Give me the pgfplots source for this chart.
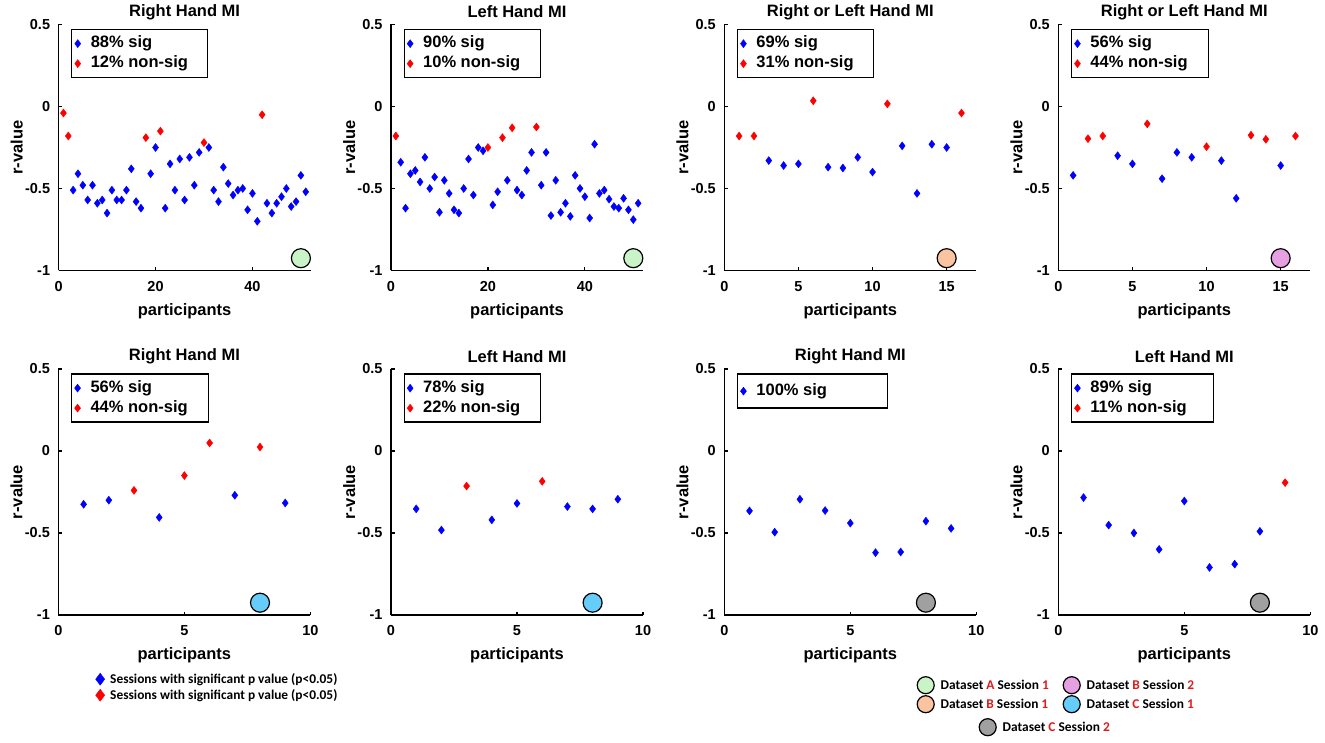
\documentclass[border=0pt]{standalone}
\usepackage{pgfplots}
\pgfplotsset{compat=1.18}
\usepackage{fontspec}
\setmainfont{Liberation Sans}
\newfontfamily\calib{Carlito}
\definecolor{mblue}{RGB}{0,0,255}
\definecolor{mred}{RGB}{255,0,0}
\definecolor{dsA}{RGB}{200,244,200}
\definecolor{dsB}{RGB}{250,196,160}
\definecolor{dsBB}{RGB}{230,160,226}
\definecolor{dsC}{RGB}{102,204,250}
\definecolor{dsCC}{RGB}{160,160,160}
\definecolor{txred}{RGB}{222,28,28}
\newcommand{\bigf}{\fontsize{16.5}{19}\selectfont\bfseries}
\newcommand{\tickf}{\fontsize{14.5}{17}\selectfont\bfseries}
\newcommand{\calf}{\fontsize{13.4}{15}\selectfont\calib\bfseries}
\newcommand{\R}[1]{\textcolor{txred}{#1}}
\pgfplotsset{
  panel/.style={
    scale only axis, width=252pt, height=246pt,
    anchor=south west,
    ymin=-1, ymax=0.5, ytick={-1,-0.5,0,0.5},
    axis lines*=left,
    axis line style={line width=1.5pt, -},
    tick align=inside,
    major tick length=3.5pt,
    tick style={black, line width=1.2pt},
    tick label style={font=\tickf},
    /pgf/number format/assume math mode=true,
    xticklabel style={yshift=-7pt},
    yticklabel style={xshift=-5pt},
    xlabel={participants}, ylabel={r-value},
    every axis title/.style={at={(0.5,1)}, anchor=center, yshift=12.5pt, font=\bigf},
    every axis x label/.style={at={(axis description cs:0.5,-0.165)}, anchor=center, font=\bigf},
    every axis y label/.style={at={(axis description cs:-0.166,0.5)}, rotate=90, anchor=center, font=\bigf},
    clip=false,
    legend style={at={(0,1)}, anchor=north west, xshift=12.5pt, yshift=-4.5pt,
      draw=black, line width=1.3pt, fill=white, font=\bigf,
      inner xsep=3pt, inner ysep=4pt, row sep=0pt,
      nodes={inner sep=2pt, text height=12pt, text depth=4pt},
      /tikz/every odd column/.style={column sep=8pt}},
    legend cell align=left,
    legend image code/.code={\draw[#1] plot coordinates {(0pt,0pt)};},
  },
  sig/.style={only marks, mark=diamond*, mark size=4pt, color=mblue, line width=0.4pt},
  nsig/.style={only marks, mark=diamond*, mark size=4pt, color=mred, line width=0.4pt},
  ds/.style={only marks, mark=*, mark size=9.5pt, mark options={draw=black, line width=1.2pt, fill=#1}, forget plot},
  dsl/.style={only marks, mark=*, mark size=8.5pt, mark options={draw=black, line width=1.2pt, fill=#1}},
  hidden/.style={hide axis, scale only axis, width=10pt, height=10pt, xmin=0, xmax=1, ymin=0, ymax=1, anchor=north west,
    legend cell align=left,
    legend image code/.code={\draw[##1] plot coordinates {(0pt,0pt)};}},
}
\begin{document}
\begin{tikzpicture}
\useasboundingbox (0pt,0pt) rectangle (1325pt,742pt);
% ---------- Panel 1
\begin{axis}[panel, at={(58.6pt,471.5pt)}, xmin=0, xmax=52, xtick={0,20,40}, title={Right Hand MI}]
\addplot[sig] coordinates {(3,-0.51)(4,-0.41)(5,-0.48)(6,-0.57)(7,-0.48)(8,-0.59)(9,-0.57)(10,-0.65)(11,-0.51)(12,-0.57)(13,-0.57)(14,-0.51)(15,-0.38)(16,-0.58)(17,-0.62)(19,-0.41)(20,-0.25)(22,-0.62)(23,-0.35)(24,-0.51)(25,-0.32)(26,-0.57)(27,-0.31)(28,-0.48)(29,-0.28)(31,-0.25)(32,-0.51)(33,-0.58)(34,-0.37)(35,-0.47)(36,-0.54)(37,-0.51)(38,-0.50)(39,-0.63)(40,-0.53)(41,-0.70)(43,-0.59)(44,-0.65)(45,-0.59)(46,-0.55)(47,-0.50)(48,-0.61)(49,-0.58)(50,-0.42)(51,-0.52)};
\addlegendentry{\makebox[112pt][l]{88\% sig}}
\addplot[nsig] coordinates {(1,-0.04)(2,-0.18)(18,-0.19)(21,-0.15)(30,-0.22)(42,-0.05)};
\addlegendentry{12\% non-sig}
\addplot[ds=dsA] coordinates {(50,-0.925)};
\end{axis}
% ---------- Panel 2
\begin{axis}[panel, at={(391pt,471.5pt)}, xmin=0, xmax=52, xtick={0,20,40}, title={Left Hand MI}]
\addplot[sig] coordinates {(2,-0.34)(3,-0.62)(4,-0.41)(5,-0.39)(6,-0.46)(7,-0.31)(8,-0.50)(9,-0.43)(10,-0.645)(11,-0.45)(12,-0.53)(13,-0.63)(14,-0.65)(15,-0.50)(16,-0.32)(17,-0.54)(18,-0.25)(19,-0.27)(21,-0.60)(22,-0.52)(24,-0.45)(26,-0.51)(27,-0.54)(28,-0.39)(29,-0.28)(31,-0.48)(32,-0.28)(33,-0.665)(34,-0.45)(35,-0.645)(36,-0.59)(37,-0.67)(38,-0.42)(39,-0.50)(40,-0.55)(41,-0.68)(42,-0.23)(43,-0.53)(44,-0.51)(45,-0.565)(46,-0.61)(47,-0.62)(48,-0.56)(49,-0.63)(50,-0.69)(51,-0.59)};
\addlegendentry{\makebox[112pt][l]{90\% sig}}
\addplot[nsig] coordinates {(1,-0.18)(20,-0.25)(23,-0.19)(25,-0.13)(30,-0.125)};
\addlegendentry{10\% non-sig}
\addplot[ds=dsA] coordinates {(50,-0.925)};
\end{axis}
% ---------- Panel 3
\begin{axis}[panel, at={(724.3pt,471.5pt)}, xmin=0, xmax=17, xtick={0,5,10,15}, title={Right or Left Hand MI}]
\addplot[sig] coordinates {(3,-0.33)(4,-0.36)(5,-0.35)(7,-0.37)(8,-0.375)(9,-0.31)(10,-0.40)(12,-0.24)(13,-0.53)(14,-0.23)(15,-0.25)};
\addlegendentry{\makebox[112pt][l]{69\% sig}}
\addplot[nsig] coordinates {(1,-0.18)(2,-0.18)(6,0.035)(11,0.016)(16,-0.04)};
\addlegendentry{31\% non-sig}
\addplot[ds=dsB] coordinates {(15,-0.925)};
\end{axis}
% ---------- Panel 4
\begin{axis}[panel, at={(1058.3pt,471.5pt)}, xmin=0, xmax=17, xtick={0,5,10,15}, title={Right or Left Hand MI}]
\addplot[sig] coordinates {(1,-0.42)(4,-0.30)(5,-0.35)(7,-0.44)(8,-0.28)(9,-0.31)(11,-0.33)(12,-0.56)(15,-0.36)};
\addlegendentry{\makebox[113pt][l]{56\% sig}}
\addplot[nsig] coordinates {(2,-0.196)(3,-0.18)(6,-0.106)(10,-0.245)(13,-0.175)(14,-0.20)(16,-0.18)};
\addlegendentry{44\% non-sig}
\addplot[ds=dsBB] coordinates {(15,-0.925)};
\end{axis}
% ---------- Panel 5
\begin{axis}[panel, at={(58.4pt,127pt)}, xmin=0, xmax=10, xtick={0,5,10}, title={Right Hand MI}]
\addplot[sig] coordinates {(1,-0.325)(2,-0.30)(4,-0.405)(7,-0.27)(9,-0.317)};
\addlegendentry{\makebox[113pt][l]{56\% sig}}
\addplot[nsig] coordinates {(3,-0.24)(5,-0.15)(6,0.049)(8,0.024)};
\addlegendentry{44\% non-sig}
\addplot[ds=dsC] coordinates {(8,-0.925)};
\end{axis}
% ---------- Panel 6
\begin{axis}[panel, at={(391pt,127pt)}, xmin=0, xmax=10, xtick={0,5,10}, title={Left Hand MI}]
\addplot[sig] coordinates {(1,-0.353)(2,-0.482)(4,-0.42)(5,-0.32)(7,-0.339)(8,-0.353)(9,-0.294)};
\addlegendentry{\makebox[112pt][l]{78\% sig}}
\addplot[nsig] coordinates {(3,-0.214)(6,-0.185)};
\addlegendentry{22\% non-sig}
\addplot[ds=dsC] coordinates {(8,-0.925)};
\end{axis}
% ---------- Panel 7
\begin{axis}[panel, at={(724.3pt,127pt)}, xmin=0, xmax=10, xtick={0,5,10}, title={Right Hand MI},
  legend style={inner ysep=7pt}]
\addplot[sig] coordinates {(1,-0.365)(2,-0.495)(3,-0.294)(4,-0.363)(5,-0.44)(6,-0.62)(7,-0.616)(8,-0.428)(9,-0.472)};
\addlegendentry{\makebox[126pt][l]{100\% sig}}
\addplot[ds=dsCC] coordinates {(8,-0.925)};
\end{axis}
% ---------- Panel 8
\begin{axis}[panel, at={(1058.3pt,127pt)}, xmin=0, xmax=10, xtick={0,5,10}, title={Left Hand MI}]
\addplot[sig] coordinates {(1,-0.284)(2,-0.452)(3,-0.50)(4,-0.60)(5,-0.305)(6,-0.71)(7,-0.69)(8,-0.49)};
\addlegendentry{\makebox[118pt][l]{89\% sig}}
\addplot[nsig] coordinates {(9,-0.193)};
\addlegendentry{11\% non-sig}
\addplot[ds=dsCC] coordinates {(8,-0.925)};
\end{axis}
% ---------- Bottom-left legend
\begin{axis}[hidden, at={(95.5pt,69pt)},
  legend style={at={(0,1)}, anchor=north west, draw=none, fill=none, font=\calf,
    inner sep=0pt, nodes={inner sep=0pt}, row sep=4pt,
    /tikz/every odd column/.style={column sep=5.5pt}}]
\addlegendimage{only marks, mark=diamond*, mark size=6pt, color=mblue}
\addlegendentry{Sessions with significant p value (p<0.05)}
\addlegendimage{only marks, mark=diamond*, mark size=6pt, color=mred}
\addlegendentry{Sessions with significant p value (p<0.05)}
\end{axis}
% ---------- Dataset legend (two columns)
\begin{axis}[hidden, at={(917pt,65.5pt)}, legend columns=2,
  legend style={at={(0,1)}, anchor=north west, draw=none, fill=none, font=\calf,
    inner sep=0pt, nodes={inner sep=0pt}, row sep=2pt,
    /tikz/every odd column/.style={column sep=6.5pt},
    /tikz/every even column/.style={column sep=7.5pt}}]
\addlegendimage{dsl=dsA}
\addlegendentry{\makebox[115pt][l]{Dataset \R{A} Session \R{1}}}
\addlegendimage{dsl=dsBB}
\addlegendentry{Dataset \R{B} Session \R{2}}
\addlegendimage{dsl=dsB}
\addlegendentry{\makebox[115pt][l]{Dataset \R{B} Session \R{1}}}
\addlegendimage{dsl=dsC}
\addlegendentry{Dataset \R{C} Session \R{1}}
\end{axis}
% ---------- Dataset legend (third row)
\begin{axis}[hidden, at={(979pt,23.5pt)},
  legend style={at={(0,1)}, anchor=north west, draw=none, fill=none, font=\calf,
    inner sep=0pt, nodes={inner sep=0pt},
    /tikz/every odd column/.style={column sep=6.5pt}}]
\addlegendimage{dsl=dsCC}
\addlegendentry{Dataset \R{C} Session \R{2}}
\end{axis}
\end{tikzpicture}
\end{document}
